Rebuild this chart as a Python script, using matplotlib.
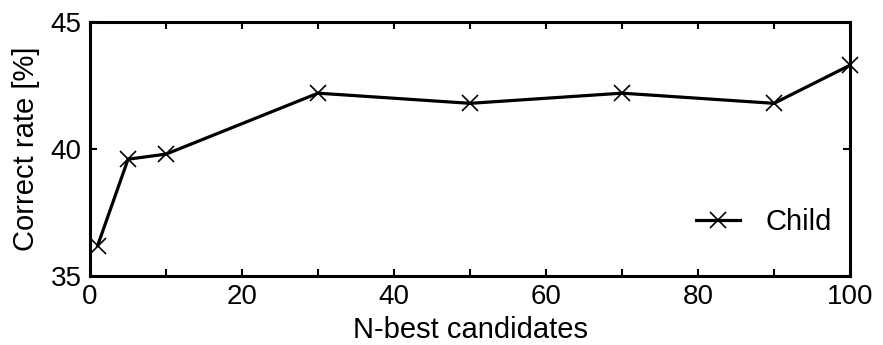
import numpy as np
import matplotlib.pyplot as plt
from matplotlib.ticker import MultipleLocator

plt.rcParams['font.family'] = ['Liberation Sans', 'DejaVu Sans']

n_best = [1, 5, 10, 30, 50, 70, 90, 100]
child = [36.2, 39.6, 39.8, 42.2, 41.8, 42.2, 41.8, 43.3]

fig = plt.figure(figsize=(8.83, 3.45), dpi=100)
ax = fig.add_axes([0.102, 0.2, 0.8606, 0.736])

ax.plot(n_best, child, 'k-', lw=2.3, marker='x', ms=11, mew=1.2, label='Child', clip_on=False)

ax.set_xlim(0, 100)
ax.set_ylim(35, 45)
ax.xaxis.set_major_locator(MultipleLocator(20))
ax.xaxis.set_minor_locator(MultipleLocator(10))
ax.yaxis.set_major_locator(MultipleLocator(5))
ax.tick_params(which='both', direction='in', top=True, right=True, length=5, width=1.5, labelsize=20)
ax.tick_params(axis='x', pad=6)
ax.tick_params(axis='y', pad=6)

ax.set_xlabel('N-best candidates', fontsize=21, labelpad=4)
ax.set_ylabel('Correct rate [%]', fontsize=21, labelpad=8)

for s in ax.spines.values():
    s.set_linewidth(2.2)

ax.legend(loc='center right', frameon=False, fontsize=21, handlelength=1.5, handletextpad=0.9,
          borderaxespad=0, bbox_to_anchor=(0.992, 0.213))

fig.savefig('out.png', dpi=100)
